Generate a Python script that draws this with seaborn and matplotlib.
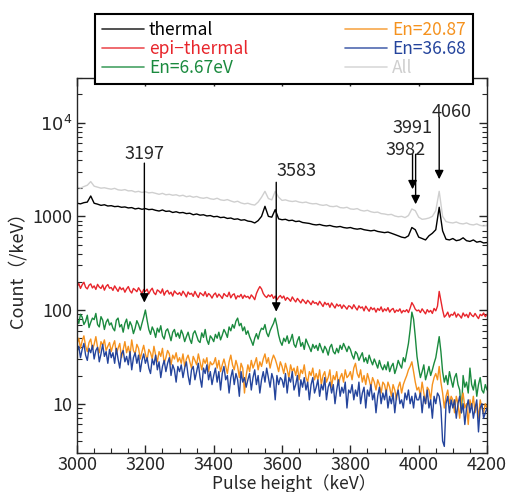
import numpy as np
import pandas as pd
import matplotlib
matplotlib.use("Agg")
import matplotlib.pyplot as plt
from matplotlib.lines import Line2D
from matplotlib.ticker import FixedLocator, LogLocator, MultipleLocator, NullFormatter
import seaborn as sns

# pulse height bins (keV): 10 keV for the smooth spectra, 5 keV for the noisy ones
energy = np.arange(3000, 4201, 10)
energy_fine = np.arange(3000, 4201, 5)

# counts per keV
all_counts = [
    2050, 2000, 2080, 2150, 2350, 2100, 2050, 2000, 2020, 1980,
    1950, 1990, 1920, 1900, 1930, 1870, 1880, 1820, 1850, 1800,
    1830, 1780, 1800, 1760, 1720, 1760, 1700, 1720, 1680, 1700,
    1650, 1680, 1620, 1650, 1600, 1630, 1580, 1560, 1590, 1540,
    1520, 1560, 1500, 1480, 1510, 1460, 1420, 1450, 1390, 1360,
    1380, 1340, 1320, 1420, 1600, 1850, 1550, 1500, 1850, 1600,
    1480, 1500, 1460, 1440, 1460, 1420, 1400, 1420, 1380, 1360,
    1370, 1330, 1310, 1330, 1280, 1270, 1290, 1240, 1230, 1250,
    1200, 1190, 1210, 1160, 1140, 1160, 1120, 1100, 1110, 1070,
    1060, 1040, 1050, 1010, 990, 1000, 970, 1020, 1200, 1150,
    980, 930, 940, 960, 1000, 1150, 1850, 1000, 880, 860,
    850, 870, 840, 830, 850, 820, 810, 830, 800, 790,
    800]
thermal = [
    1380, 1360, 1400, 1420, 1650, 1380, 1350, 1310, 1330, 1290,
    1300, 1270, 1280, 1250, 1260, 1230, 1240, 1200, 1220, 1190,
    1210, 1180, 1190, 1160, 1140, 1170, 1130, 1140, 1100, 1120,
    1090, 1100, 1070, 1080, 1040, 1060, 1030, 1040, 1010, 1020,
    990, 1000, 970, 980, 950, 960, 930, 940, 910, 920,
    890, 880, 850, 900, 1000, 1280, 1000, 980, 1180, 940,
    920, 930, 900, 910, 880, 890, 860, 850, 840, 820,
    810, 820, 800, 790, 800, 780, 770, 780, 760, 750,
    760, 740, 730, 740, 720, 710, 700, 710, 690, 680,
    670, 680, 660, 640, 620, 600, 590, 620, 760, 720,
    600, 580, 560, 620, 660, 720, 1250, 700, 570, 560,
    580, 550, 560, 590, 550, 540, 560, 530, 540, 520,
    525]
epi_thermal = [
    178, 192, 170, 186, 198, 175, 168, 184, 190, 172, 181, 166, 188, 176, 170, 185, 163, 179, 187, 171,
    174, 162, 181, 169, 158, 176, 165, 172, 155, 168, 178, 160, 152, 170, 164, 157, 173, 161, 150, 166,
    158, 167, 149, 162, 171, 153, 146, 164, 159, 151, 168, 144, 157, 162, 148, 155, 141, 160, 152, 147,
    154, 143, 159, 149, 138, 156, 147, 151, 140, 158, 145, 136, 153, 148, 142, 157, 139, 150, 144, 134,
    146, 152, 137, 148, 141, 133, 150, 143, 139, 155, 135, 145, 149, 131, 142, 138, 147, 133, 144, 137,
    140, 132, 145, 138, 129, 150, 165, 178, 168, 150, 141, 136, 145, 139, 146, 133, 141, 128, 137, 143,
    134, 141, 127, 136, 131, 124, 138, 129, 122, 133, 126, 119, 130, 124, 117, 127, 121, 114, 125, 118,
    120, 113, 124, 116, 109, 121, 114, 118, 107, 119, 112, 105, 116, 110, 114, 104, 113, 108, 102, 111,
    109, 103, 114, 106, 100, 111, 105, 108, 98, 110, 103, 97, 107, 101, 105, 95, 104, 99, 108, 96,
    103, 98, 106, 95, 101, 104, 94, 100, 97, 103, 93, 99, 96, 101, 94, 105, 120, 112, 102, 98,
    100, 94, 103, 97, 91, 101, 95, 99, 92, 104, 98, 110, 158, 125, 100, 84, 88, 95, 84, 90,
    88, 95, 84, 91, 87, 82, 93, 86, 90, 83, 94, 88, 85, 92, 86, 81, 90, 87, 93, 85,
    90]
en_667 = [
    80, 72, 90, 84, 70, 76, 88, 65, 74, 82, 79, 92, 70, 66, 85, 78, 62, 74, 80, 69,
    73, 64, 60, 78, 82, 66, 70, 58, 72, 80, 63, 75, 68, 56, 64, 77, 70, 61, 72, 84,
    100, 78, 62, 55, 66, 60, 51, 64, 58, 68, 53, 49, 60, 63, 55, 47, 58, 62, 52, 57,
    50, 61, 55, 46, 52, 58, 49, 44, 56, 60, 53, 47, 45, 57, 51, 62, 48, 43, 53, 50,
    46, 55, 50, 58, 48, 54, 62, 57, 51, 66, 60, 70, 64, 76, 82, 68, 72, 60, 66, 55,
    60, 52, 47, 42, 50, 56, 49, 58, 64, 62, 70, 57, 52, 60, 66, 72, 82, 68, 54, 46,
    42, 50, 46, 53, 44, 48, 55, 43, 40, 47, 52, 41, 45, 38, 49, 44, 40, 36, 43, 39,
    42, 37, 44, 39, 35, 41, 38, 33, 40, 43, 36, 34, 39, 35, 42, 38, 44, 40, 36, 41,
    38, 33, 30, 36, 34, 29, 32, 35, 28, 31, 27, 33, 29, 26, 30, 27, 24, 29, 25, 23,
    26, 23, 28, 22, 25, 27, 21, 24, 29, 26, 24, 31, 28, 35, 44, 62, 95, 80, 52, 32,
    24, 19, 22, 26, 18, 21, 25, 20, 23, 27, 31, 40, 52, 36, 22, 17, 20, 16, 22, 18,
    15, 19, 21, 16, 14, 8, 20, 15, 17, 13, 24, 16, 14, 18, 12, 16, 19, 14, 13, 16,
    14]
en_2087 = [
    44, 50, 39, 47, 53, 41, 36, 45, 49, 38, 43, 52, 40, 35, 46, 42, 48, 37, 41, 45,
    36, 42, 47, 34, 39, 44, 31, 38, 46, 35, 41, 33, 48, 37, 34, 43, 39, 30, 36, 42,
    34, 29, 38, 35, 30, 41, 33, 28, 36, 32, 39, 27, 31, 37, 34, 26, 33, 30, 35, 28,
    31, 27, 34, 25, 30, 33, 28, 24, 32, 29, 26, 34, 28, 23, 30, 27, 31, 22, 28, 26,
    27, 31, 24, 29, 22, 26, 30, 25, 21, 28, 33, 26, 23, 29, 25, 19, 27, 24, 13, 20,
    26, 22, 29, 24, 27, 31, 23, 28, 25, 30, 34, 27, 31, 24, 29, 33, 30, 26, 22, 28,
    25, 21, 27, 23, 19, 26, 22, 24, 20, 25, 18, 23, 21, 26, 19, 17, 22, 20, 24, 18,
    21, 18, 23, 16, 20, 22, 17, 19, 23, 15, 20, 18, 22, 16, 19, 21, 17, 23, 19, 20,
    22, 18, 24, 27, 21, 19, 23, 17, 20, 16, 21, 18, 15, 19, 17, 14, 18, 16, 13, 17,
    16, 13, 17, 15, 12, 16, 14, 11, 15, 17, 13, 16, 18, 20, 23, 25, 28, 22, 17, 14,
    15, 12, 17, 13, 10, 15, 14, 11, 16, 19, 21, 18, 25, 17, 13, 9, 12, 14, 10, 12,
    11, 8, 12, 10, 7, 11, 13, 9, 10, 6, 11, 9, 12, 8, 10, 7, 11, 9, 8, 10,
    9]
en_3668 = [
    36, 41, 31, 38, 44, 33, 29, 39, 35, 42, 30, 37, 40, 28, 34, 43, 32, 36, 27, 38,
    31, 35, 27, 39, 30, 24, 34, 37, 28, 32, 26, 36, 23, 31, 35, 27, 33, 22, 29, 34,
    27, 31, 24, 21, 30, 26, 33, 23, 28, 19, 25, 29, 22, 27, 31, 20, 26, 23, 17, 25,
    22, 26, 19, 24, 28, 20, 16, 23, 25, 18, 22, 27, 19, 15, 24, 21, 26, 18, 22, 16,
    20, 24, 17, 22, 14, 21, 25, 18, 20, 13, 19, 23, 16, 21, 18, 12, 22, 17, 19, 15,
    18, 21, 14, 19, 23, 16, 20, 13, 18, 22, 17, 24, 19, 15, 21, 18, 11, 20, 16, 19,
    18, 15, 21, 13, 19, 17, 22, 14, 16, 20, 12, 18, 15, 19, 14, 17, 11, 16, 19, 13,
    15, 18, 12, 16, 14, 19, 11, 15, 17, 13, 16, 10, 14, 18, 12, 15, 13, 17, 9, 14,
    13, 16, 11, 14, 12, 17, 10, 13, 15, 9, 14, 12, 16, 11, 13, 8, 12, 15, 10, 13,
    11, 14, 9, 12, 10, 13, 8, 12, 14, 10, 11, 9, 13, 11, 14, 10, 12, 9, 13, 11,
    11, 13, 8, 12, 10, 14, 9, 11, 7, 12, 10, 13, 12, 9, 4, 3.5, 10, 12, 8, 11,
    9, 11, 7, 10, 12, 8, 10, 6, 9, 11, 8, 10, 7, 9, 11, 5, 9, 10, 7, 8,
    9]

# peak annotations
peak_labels = ["3197", "3583", "3982", "3991", "4060"]

series = {
    "All": (energy, all_counts),
    "thermal": (energy, thermal),
    "epi−thermal": (energy_fine, epi_thermal),
    "En=6.67eV": (energy_fine, en_667),
    "En=20.87": (energy_fine, en_2087),
    "En=36.68": (energy_fine, en_3668),
}
colors = {
    "All": "#cfcfcf",
    "thermal": "#000000",
    "epi−thermal": "#e8252b",
    "En=6.67eV": "#1a8a3e",
    "En=20.87": "#f5921e",
    "En=36.68": "#24449c",
}

df = pd.concat(
    [pd.DataFrame({"energy": x, "count": y, "set": name})
     for name, (x, y) in series.items()],
    ignore_index=True,
)

sns.set_style("ticks")
plt.rcParams["font.family"] = ["Noto Sans CJK JP", "DejaVu Sans"]

fig = plt.figure(figsize=(5.07, 4.92), dpi=100)
ax = fig.add_axes([0.152, 0.0799, 0.8086, 0.7616])

sns.lineplot(data=df, x="energy", y="count", hue="set", palette=colors,
             hue_order=list(series.keys()), estimator=None, sort=False,
             lw=1.0, legend=False, ax=ax)

ax.set_yscale("log")
ax.set_xlim(3000, 4200)
ax.set_ylim(3, 30000)

ax.xaxis.set_major_locator(MultipleLocator(200))
ax.xaxis.set_minor_locator(MultipleLocator(50))
ax.yaxis.set_major_locator(FixedLocator([10, 100, 1000, 10000]))
ax.set_yticklabels(["10", "100", "1000", "$10^4$"])
ax.yaxis.set_minor_locator(LogLocator(base=10, subs=np.arange(2, 10)))
ax.yaxis.set_minor_formatter(NullFormatter())
ax.tick_params(which="both", direction="in", top=True, right=True, labelsize=13)
ax.tick_params(which="major", length=6, width=1)
ax.tick_params(axis="x", which="major", pad=2.5)
ax.tick_params(which="minor", length=3.5, width=0.8)
for s in ax.spines.values():
    s.set_linewidth(1)

ax.set_xlabel("Pulse height（keV）", fontsize=12.5, labelpad=0)
ax.xaxis.set_label_coords(0.53, -0.056)
ax.set_ylabel("Count（/keV）", fontsize=13, labelpad=4)

# arrows and labels for the peaks
arr = dict(arrowstyle="-|>", color="black", lw=1, mutation_scale=13,
           shrinkA=0, shrinkB=0)
ax.annotate("", xy=(3197, 120), xytext=(3197, 3700), arrowprops=arr)
ax.text(3197, 4600, peak_labels[0], ha="center", va="center", fontsize=13)
ax.annotate("", xy=(3583, 96), xytext=(3583, 2310), arrowprops=arr)
ax.text(3583, 3030, peak_labels[1], ha="left", va="center", fontsize=13)
ax.annotate("", xy=(3982, 1945), xytext=(3982, 4600), arrowprops=arr)
ax.annotate("", xy=(3991, 1345), xytext=(3991, 4600), arrowprops=arr)
ax.text(3961, 5140, peak_labels[2], ha="center", va="center", fontsize=13)
ax.text(3982, 8730, peak_labels[3], ha="center", va="center", fontsize=13)
ax.annotate("", xy=(4060, 2490), xytext=(4060, 11450), arrowprops=arr)
ax.text(4096, 13100, peak_labels[4], ha="center", va="center", fontsize=13)

order = ["thermal", "epi−thermal", "En=6.67eV", "En=20.87", "En=36.68", "All"]
handles = [Line2D([], [], color=colors[k], lw=1.2, alpha=0.8) for k in order]
leg = fig.legend(handles, order, loc="lower left",
                 bbox_to_anchor=(95 / 507, 1 - 84 / 492, 378 / 507, 76 / 492),
                 mode="expand", ncol=2, fontsize=12.5, frameon=True,
                 fancybox=False, framealpha=1, edgecolor="black",
                 borderaxespad=0, handlelength=2.4, labelspacing=0.05,
                 handletextpad=0.3, borderpad=0.4)
leg.get_frame().set_linewidth(1.5)
for t, k in zip(leg.get_texts(), order):
    t.set_color(colors[k])

fig.savefig("out.png", dpi=100)
